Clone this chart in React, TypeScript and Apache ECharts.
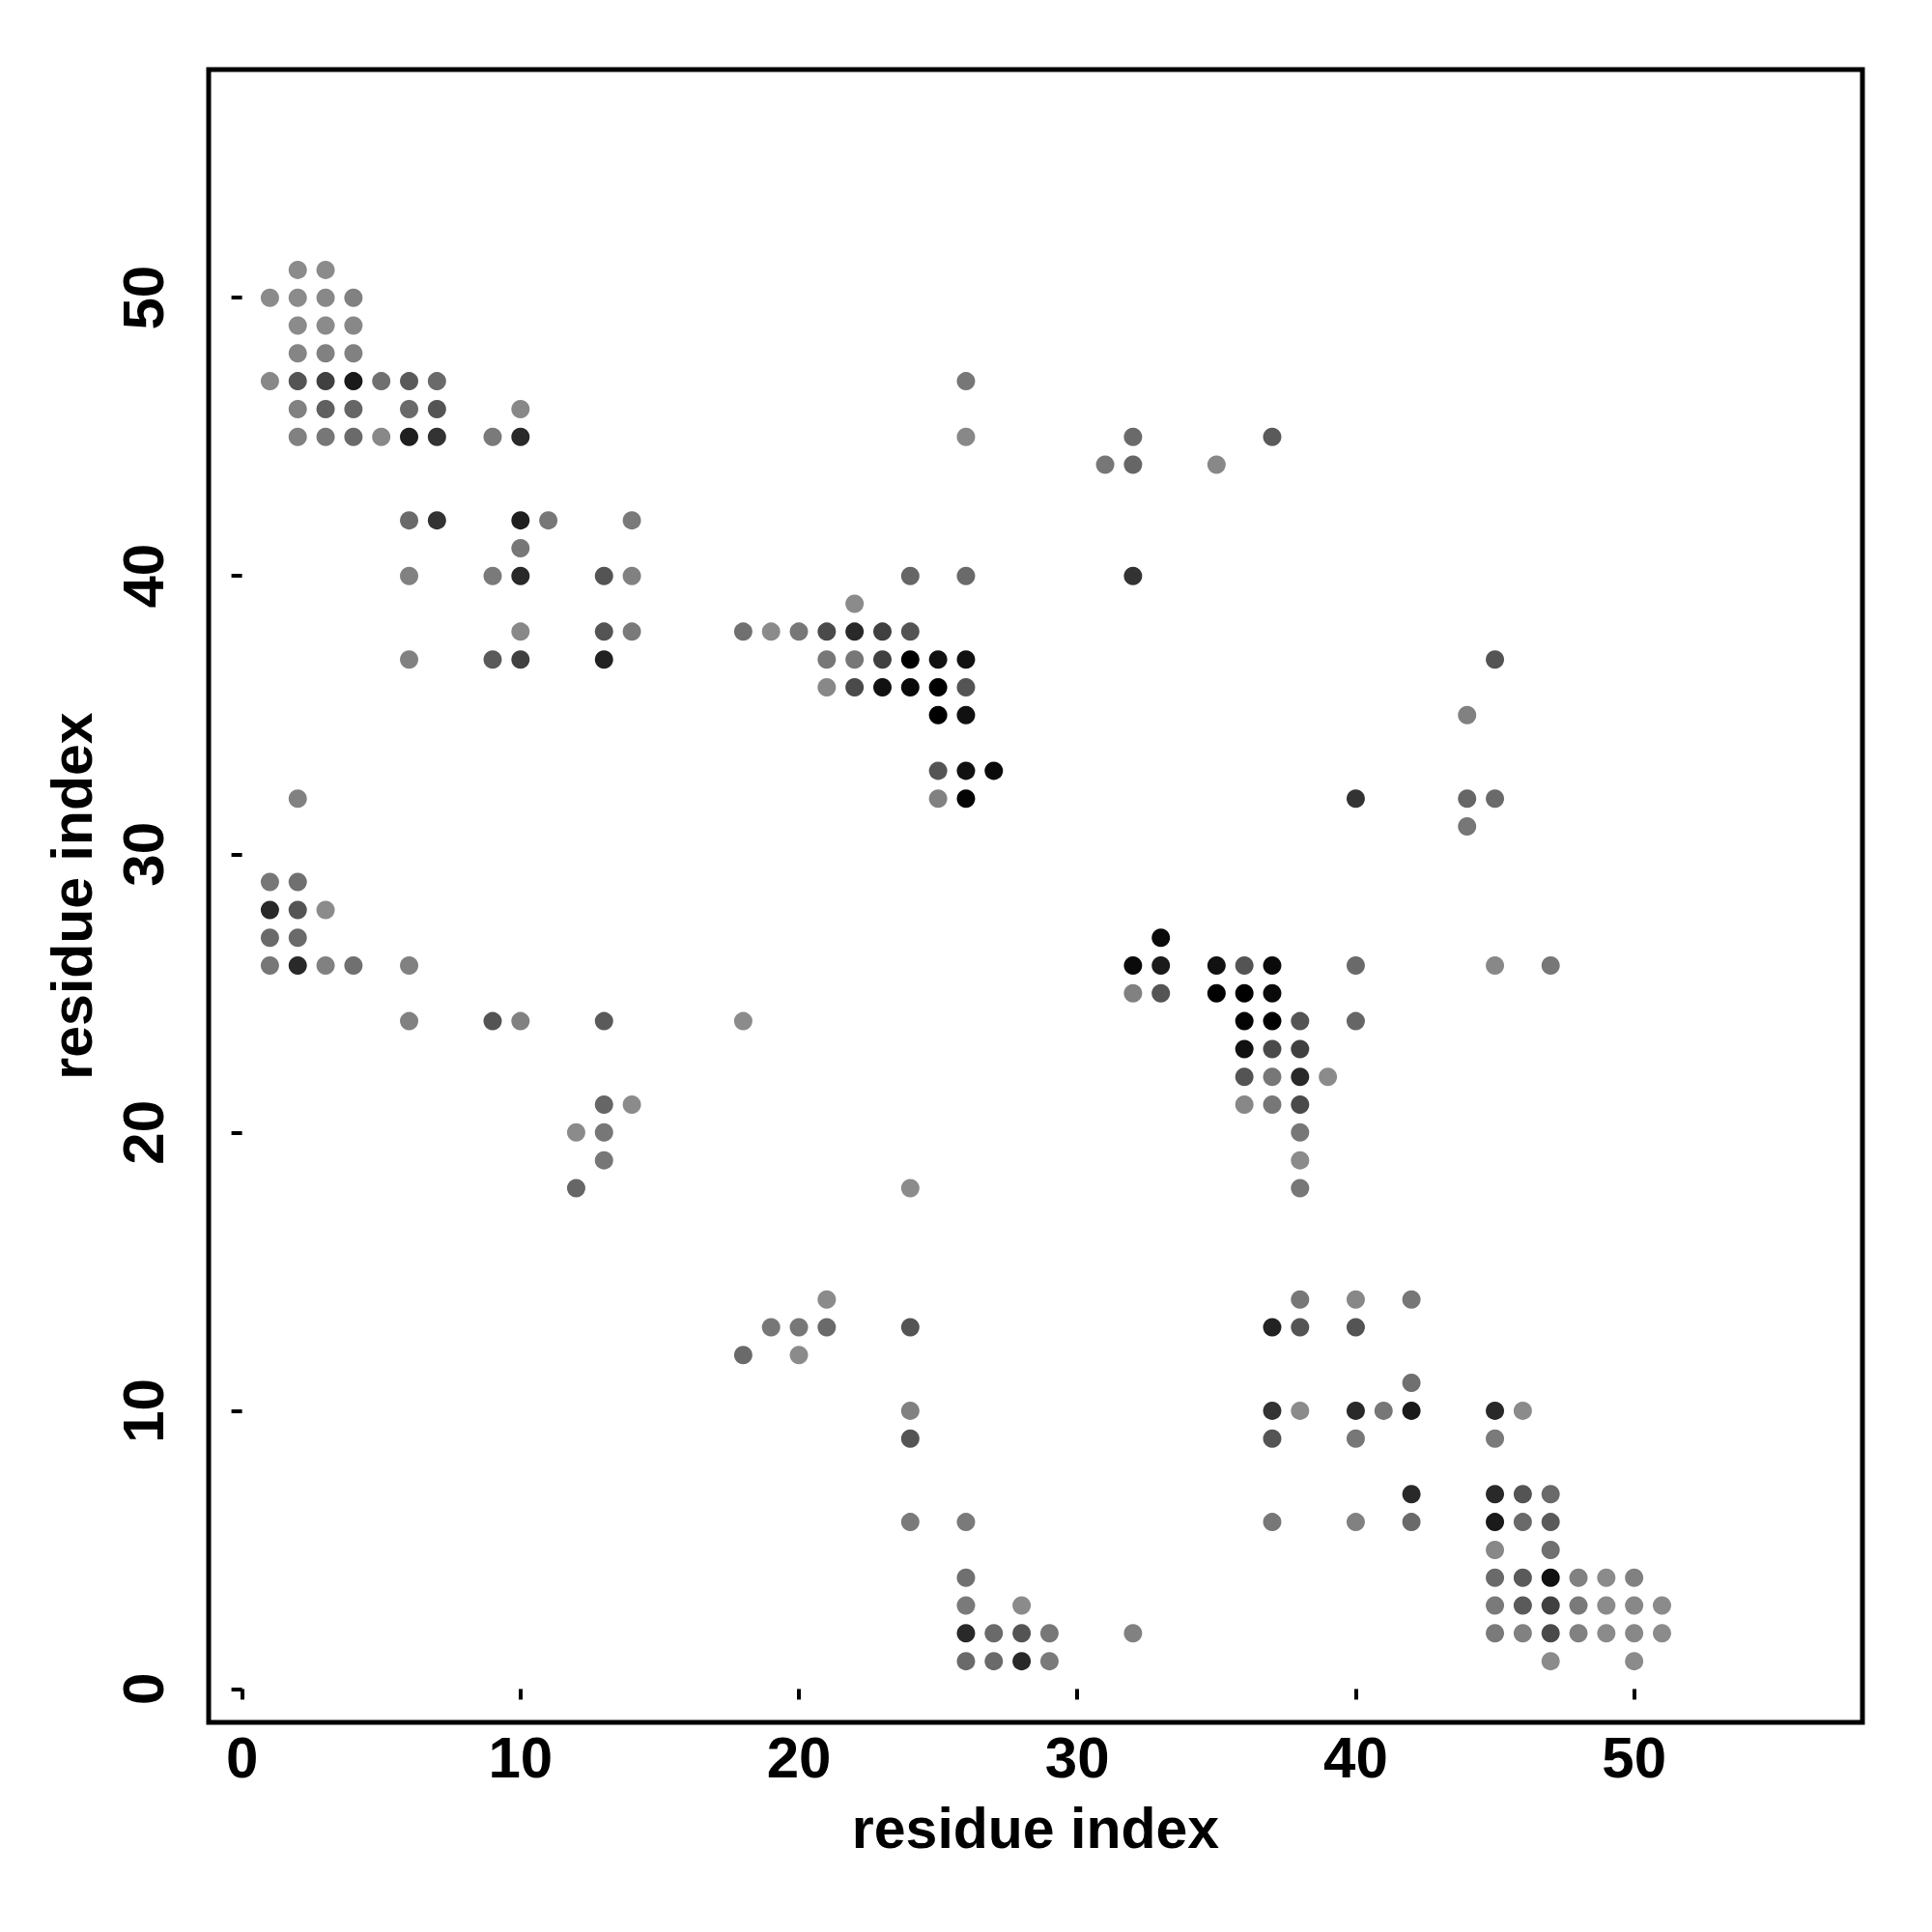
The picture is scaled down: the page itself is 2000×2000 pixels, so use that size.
import React, { useEffect, useRef } from "react";
import * as echarts from "echarts";

// Contact map: each entry is [residue i, residue j, contact strength 0..1]
const topLeftContacts: number[][] = [
  [2, 51, 0.03], [3, 51, 0.03],
  [1, 50, 0.03], [2, 50, 0.03], [3, 50, 0.05], [4, 50, 0.1],
  [2, 49, 0.03], [3, 49, 0.03], [4, 49, 0.05],
  [2, 48, 0.07], [3, 48, 0.1], [4, 48, 0.1],
  [1, 47, 0.05], [2, 47, 0.41], [3, 47, 0.55], [4, 47, 0.82], [5, 47, 0.22], [6, 47, 0.37], [7, 47, 0.26],
  [2, 46, 0.1], [3, 46, 0.33], [4, 46, 0.29], [6, 46, 0.26], [7, 46, 0.41], [10, 46, 0.05],
  [2, 45, 0.1], [3, 45, 0.17], [4, 45, 0.26], [5, 45, 0.05], [6, 45, 0.78], [7, 45, 0.64], [9, 45, 0.15], [10, 45, 0.71],
  [6, 42, 0.26], [7, 42, 0.64], [10, 42, 0.78], [11, 42, 0.17], [14, 42, 0.15],
  [10, 41, 0.17],
  [6, 40, 0.1], [9, 40, 0.15], [10, 40, 0.71], [13, 40, 0.41], [14, 40, 0.1],
  [10, 38, 0.05], [13, 38, 0.41], [14, 38, 0.15],
  [6, 37, 0.1], [9, 37, 0.37], [10, 37, 0.55], [13, 37, 0.76],
];

const midLeftContacts: number[][] = [
  [2, 32, 0.1],
  [1, 29, 0.17], [2, 29, 0.22],
  [1, 28, 0.71], [2, 28, 0.41], [3, 28, 0.03],
  [1, 27, 0.26], [2, 27, 0.26],
  [1, 26, 0.17], [2, 26, 0.71], [3, 26, 0.1], [4, 26, 0.22], [6, 26, 0.1],
  [6, 24, 0.1], [9, 24, 0.41], [10, 24, 0.1], [13, 24, 0.37],
  [13, 21, 0.29], [14, 21, 0.03],
  [12, 20, 0.03], [13, 20, 0.17],
  [13, 19, 0.17],
  [12, 18, 0.29],
];

const topMidContacts: number[][] = [
  [26, 47, 0.17],
  [26, 45, 0.05], [32, 45, 0.26],
  [31, 44, 0.17], [32, 44, 0.29], [35, 44, 0.05],
  [24, 40, 0.29], [26, 40, 0.26], [32, 40, 0.64],
  [22, 39, 0.03],
  [18, 38, 0.22], [19, 38, 0.03], [20, 38, 0.17], [21, 38, 0.48], [22, 38, 0.71], [23, 38, 0.55], [24, 38, 0.41],
  [21, 37, 0.17], [22, 37, 0.17], [23, 37, 0.55], [24, 37, 1.0], [25, 37, 0.88], [26, 37, 0.88],
  [21, 36, 0.05], [22, 36, 0.48], [23, 36, 0.88], [24, 36, 0.93], [25, 36, 1.0], [26, 36, 0.41],
  [25, 35, 1.0], [26, 35, 0.88],
  [25, 33, 0.41], [26, 33, 0.88], [27, 33, 0.93],
  [25, 32, 0.1], [26, 32, 0.97],
];

const topRightContacts: number[][] = [
  [37, 45, 0.37],
  [45, 37, 0.41],
  [44, 35, 0.1],
  [40, 32, 0.64], [44, 32, 0.29], [45, 32, 0.26],
  [44, 31, 0.17],
];

const centerContacts: number[][] = [
  [33, 27, 0.93],
  [32, 26, 0.93], [33, 26, 0.82], [35, 26, 0.88], [36, 26, 0.41], [37, 26, 0.93], [40, 26, 0.26], [45, 26, 0.05], [47, 26, 0.17],
  [32, 25, 0.1], [33, 25, 0.41], [35, 25, 1.0], [36, 25, 1.0], [37, 25, 0.93],
  [36, 24, 0.97], [37, 24, 1.0], [38, 24, 0.41], [40, 24, 0.29],
  [36, 23, 0.88], [37, 23, 0.48], [38, 23, 0.55],
  [36, 22, 0.41], [37, 22, 0.17], [38, 22, 0.71], [39, 22, 0.03],
  [36, 21, 0.05], [37, 21, 0.17], [38, 21, 0.48],
  [38, 20, 0.17],
  [38, 19, 0.03],
  [38, 18, 0.17],
  [18, 24, 0.03], [24, 18, 0.03],
];

const bottomMidContacts: number[][] = [
  [21, 14, 0.03],
  [19, 13, 0.17], [20, 13, 0.17], [21, 13, 0.26], [24, 13, 0.41],
  [18, 12, 0.26], [20, 12, 0.03],
  [24, 10, 0.1],
  [24, 9, 0.41],
  [24, 6, 0.15], [26, 6, 0.15],
  [26, 4, 0.22],
  [26, 3, 0.15], [28, 3, 0.03],
  [26, 2, 0.71], [27, 2, 0.26], [28, 2, 0.41], [29, 2, 0.17], [32, 2, 0.1],
  [26, 1, 0.26], [27, 1, 0.26], [28, 1, 0.71], [29, 1, 0.15],
];

const bottomRightContacts: number[][] = [
  [38, 14, 0.17], [40, 14, 0.05], [42, 14, 0.17],
  [37, 13, 0.76], [38, 13, 0.41], [40, 13, 0.41],
  [42, 11, 0.22],
  [37, 10, 0.64], [38, 10, 0.03], [40, 10, 0.71], [41, 10, 0.17], [42, 10, 0.82], [45, 10, 0.71], [46, 10, 0.03],
  [37, 9, 0.41], [40, 9, 0.17], [45, 9, 0.15],
  [42, 7, 0.71], [45, 7, 0.71], [46, 7, 0.41], [47, 7, 0.26],
  [37, 6, 0.17], [40, 6, 0.1], [42, 6, 0.26], [45, 6, 0.82], [46, 6, 0.26], [47, 6, 0.37],
  [45, 5, 0.05], [47, 5, 0.22],
  [45, 4, 0.26], [46, 4, 0.37], [47, 4, 0.88], [48, 4, 0.1], [49, 4, 0.03], [50, 4, 0.1],
  [45, 3, 0.15], [46, 3, 0.37], [47, 3, 0.55], [48, 3, 0.15], [49, 3, 0.03], [50, 3, 0.05], [51, 3, 0.03],
  [45, 2, 0.15], [46, 2, 0.1], [47, 2, 0.48], [48, 2, 0.1], [49, 2, 0.03], [50, 2, 0.05], [51, 2, 0.03],
  [47, 1, 0.03], [50, 1, 0.03],
];

const tickValues = [0, 10, 20, 30, 40, 50];
const axisTitle = "residue index";

export default function App() {
  const ref = useRef<HTMLDivElement>(null);
  useEffect(() => {
    if (!ref.current) return;
    const chart = echarts.init(ref.current, undefined, { renderer: "svg" });
    const allContacts = [
      ...topLeftContacts,
      ...midLeftContacts,
      ...topMidContacts,
      ...topRightContacts,
      ...centerContacts,
      ...bottomMidContacts,
      ...bottomRightContacts,
    ];
    const font = "'Liberation Sans', Arial, Helvetica, sans-serif";
    chart.setOption({
      animation: false,
      backgroundColor: "#ffffff",
      grid: {
        left: 216,
        right: 72,
        top: 72,
        bottom: 217,
        show: true,
        borderColor: "#000000",
        borderWidth: 5,
        backgroundColor: "transparent",
      },
      visualMap: {
        show: false,
        type: "continuous",
        dimension: 2,
        min: 0,
        max: 1,
        inRange: { color: ["#8f8f8f", "#000000"] },
      },
      xAxis: {
        type: "value",
        min: -1.2,
        max: 58.2,
        axisLine: { show: false },
        splitLine: { show: false },
        axisTick: {
          show: true,
          customValues: tickValues,
          length: 11,
          lineStyle: { color: "#000", width: 4 },
        },
        axisLabel: {
          customValues: tickValues,
          fontSize: 60,
          fontWeight: "bold",
          fontFamily: font,
          color: "#000",
          margin: 6,
        },
        name: axisTitle,
        nameLocation: "middle",
        nameGap: 80,
        nameTextStyle: {
          fontSize: 59,
          fontWeight: "bold",
          fontFamily: font,
          color: "#000",
        },
      },
      yAxis: {
        type: "value",
        min: -1.2,
        max: 58.2,
        axisLine: { show: false },
        splitLine: { show: false },
        axisTick: {
          show: true,
          customValues: tickValues,
          length: 11,
          lineStyle: { color: "#000", width: 4 },
        },
        axisLabel: {
          customValues: tickValues,
          rotate: 90,
          fontSize: 60,
          fontWeight: "bold",
          fontFamily: font,
          color: "#000",
          margin: 38,
        },
        name: axisTitle,
        nameLocation: "middle",
        nameRotate: 90,
        nameGap: 112,
        nameTextStyle: {
          fontSize: 59,
          fontWeight: "bold",
          fontFamily: font,
          color: "#000",
        },
      },
      series: [
        {
          type: "scatter",
          symbol: "circle",
          symbolSize: 19,
          data: allContacts,
          itemStyle: { opacity: 1 },
        },
      ],
    });
    return () => chart.dispose();
  }, []);
  return (
    <div
      ref={ref}
      style={{ position: "absolute", left: 0, top: 0, width: 2000, height: 2000 }}
    />
  );
}
